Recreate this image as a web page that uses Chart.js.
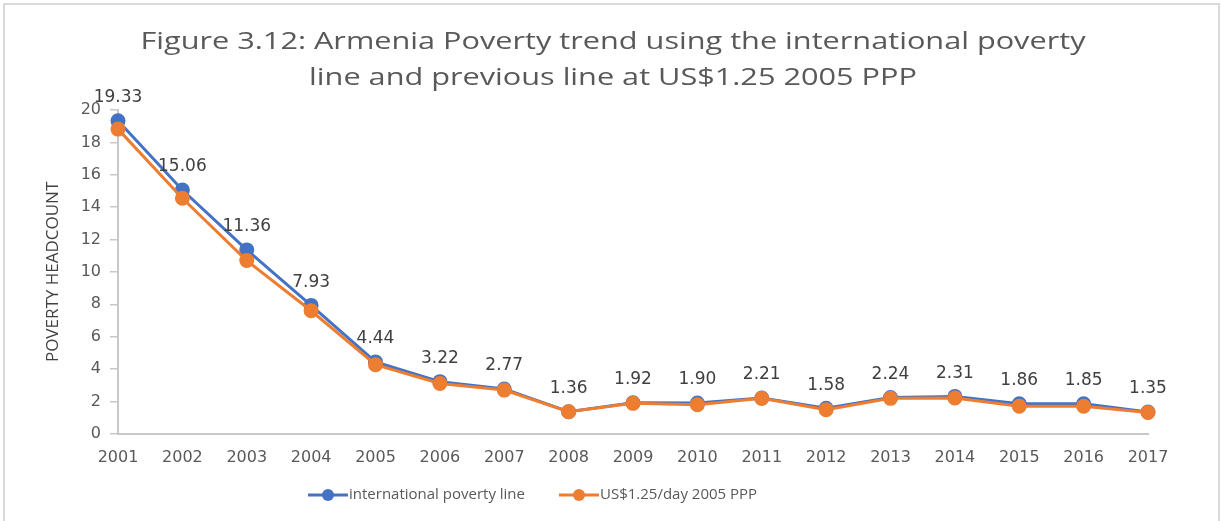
<!DOCTYPE html>
<html>
<head>
<meta charset="utf-8">
<script src="https://cdn.jsdelivr.net/npm/chart.js@4"></script>
<style>
  html, body { margin: 0; padding: 0; background: #fff; overflow: hidden; }
  #wrap { position: relative; width: 1221px; height: 521px; }
  #frame { position: absolute; left: 3px; top: 3px; width: 1213px; height: 530px; border: 2px solid #d9d9d9; pointer-events: none; }
  canvas { position: absolute; left: 0; top: 0; }
</style>
</head>
<body>
<div id="wrap">
  <canvas id="povertyChart" width="1221" height="521"></canvas>
  <div id="frame"></div>
</div>
<script>
const years = ["2001","2002","2003","2004","2005","2006","2007","2008","2009",
  "2010","2011","2012","2013","2014","2015","2016","2017"];
const intlLine = [19.33, 15.06, 11.36, 7.93, 4.44, 3.22, 2.77, 1.36, 1.92,
  1.90, 2.21, 1.58, 2.24, 2.31, 1.86, 1.85, 1.35];
const oldLine = [18.82, 14.55, 10.70, 7.60, 4.27, 3.11, 2.70, 1.36, 1.88,
  1.80, 2.19, 1.49, 2.19, 2.21, 1.70, 1.70, 1.32];
const yTicks = [0, 2, 4, 6, 8, 10, 12, 14, 16, 18, 20];
const titleLines = ["Figure 3.12: Armenia Poverty trend using the international poverty",
  "line and previous line at US$1.25 2005 PPP"];

const BLUE = "#4472C4";
const ORANGE = "#ED7D31";

// heading, drawn by hand and widened a little to fill the top band
const heading = {
  id: "heading",
  afterDraw(chart){
    const ctx = chart.ctx;
    ctx.save();
    ctx.font = "23px 'Open Sans'";
    ctx.fillStyle = "#595959";
    ctx.textAlign = "center";
    ctx.textBaseline = "middle";
    const sx = 945 / ctx.measureText(titleLines[0]).width;
    ctx.translate(613, 0);
    ctx.scale(sx, 1);
    ctx.fillText(titleLines[0], 0, 42);
    ctx.fillText(titleLines[1], 0, 78);
    ctx.restore();
  }
};

// value labels above the blue series
const valueLabels = {
  id: "valueLabels",
  afterDatasetsDraw(chart){
    const ctx = chart.ctx;
    const meta = chart.getDatasetMeta(0);
    ctx.save();
    ctx.font = "17px 'DejaVu Sans'";
    ctx.fillStyle = "#404040";
    ctx.textAlign = "center";
    ctx.textBaseline = "middle";
    meta.data.forEach((pt, i) => {
      ctx.fillText(intlLine[i].toFixed(2), pt.x, pt.y - 23);
    });
    ctx.restore();
  }
};

// line-and-dot legend under the axis
const lineLegend = {
  id: "lineLegend",
  afterDraw(chart){
    const ctx = chart.ctx;
    const y = 495;
    let x = 308;
    ctx.save();
    ctx.font = "15px 'Open Sans'";
    ctx.textBaseline = "middle";
    chart.data.datasets.forEach(ds => {
      ctx.strokeStyle = ds.borderColor;
      ctx.fillStyle = ds.borderColor;
      ctx.lineWidth = 3;
      ctx.beginPath(); ctx.moveTo(x, y); ctx.lineTo(x + 40, y); ctx.stroke();
      ctx.beginPath(); ctx.arc(x + 20, y, 6, 0, Math.PI * 2); ctx.fill();
      ctx.fillStyle = "#595959";
      ctx.fillText(ds.label, x + 41, y);
      x += 41 + ctx.measureText(ds.label).width + 34;
    });
    ctx.restore();
  }
};

new Chart(document.getElementById("povertyChart"), {
  type: "line",
  data: {
    labels: years,
    datasets: [{
      label: "international poverty line",
      data: intlLine,
      borderColor: BLUE,
      backgroundColor: BLUE,
      borderWidth: 3,
      pointRadius: 6,
      pointHoverRadius: 6,
      tension: 0,
      order: 2
    }, {
      label: "US$1.25/day 2005 PPP",
      data: oldLine,
      borderColor: ORANGE,
      backgroundColor: ORANGE,
      borderWidth: 3,
      pointRadius: 6,
      pointHoverRadius: 6,
      tension: 0,
      order: 1
    }]
  },
  options: {
    responsive: false,
    animation: false,
    layout: { padding: { left: 20, right: 73, top: 110, bottom: 40 } },
    scales: {
      x: {
        offset: false,
        grid: { display: true, drawOnChartArea: false, drawTicks: false },
        border: { color: "#c8c8c8", width: 2 },
        ticks: { color: "#595959", font: { family: "DejaVu Sans", size: 16 }, padding: 14, maxRotation: 0, autoSkip: false }
      },
      y: {
        min: 0,
        max: 20,
        afterBuildTicks(scale){ scale.ticks = yTicks.map(v => ({ value: v })); },
        afterFit(scale){ scale.width = 98; },
        grid: { display: true, drawOnChartArea: false, tickLength: 8, color: "#c8c8c8", lineWidth: 1.5 },
        border: { color: "#c8c8c8", width: 2 },
        ticks: { color: "#595959", font: { family: "DejaVu Sans", size: 16 }, padding: 9 },
        title: {
          display: true,
          text: "POVERTY HEADCOUNT",
          color: "#404040",
          font: { family: "Open Sans", size: 17, lineHeight: 1.2 },
          padding: { top: 23, bottom: 0 }
        }
      }
    },
    plugins: {
      title: { display: false },
      legend: { display: false },
      tooltip: { enabled: false }
    }
  },
  plugins: [valueLabels, heading, lineLegend]
});
</script>
</body>
</html>
